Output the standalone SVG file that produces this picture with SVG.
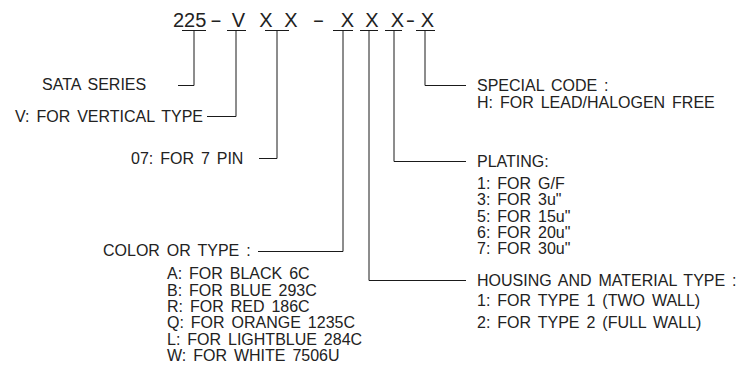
<svg xmlns="http://www.w3.org/2000/svg" width="755" height="386" viewBox="0 0 755 386">
<style>
text{font-family:"Liberation Sans",Arial,sans-serif;fill:#222222}
.t{font-size:20px}
.l{font-size:16px;word-spacing:2.5px}
.c{fill:none;stroke:#1a1a1a;stroke-width:1}
</style>
<rect width="755" height="386" fill="#ffffff"/>
<g id="part-number">
<text class="t" x="173" y="27">225</text>
<text class="t" x="0" y="0" text-anchor="middle" transform="translate(216,27) scale(1.8,1)">-</text>
<text class="t" x="238.5" y="27" text-anchor="middle">V</text>
<text class="t" x="266" y="27" text-anchor="middle">X</text>
<text class="t" x="291" y="27" text-anchor="middle">X</text>
<text class="t" x="0" y="0" text-anchor="middle" transform="translate(318.5,27) scale(1.8,1)">-</text>
<text class="t" x="347.5" y="27" text-anchor="middle">X</text>
<text class="t" x="372" y="27" text-anchor="middle">X</text>
<text class="t" x="397.5" y="27" text-anchor="middle">X</text>
<text class="t" x="0" y="0" text-anchor="middle" transform="translate(410.5,27) scale(1.4,1)">-</text>
<text class="t" x="427.5" y="27" text-anchor="middle">X</text>
</g>
<g id="connectors">
<path class="c" d="M182,30.5H206M194,30.5V85.5H178"/>
<path class="c" d="M227,30.5H246M236,30.5V116.5H207"/>
<path class="c" d="M265,30.5H289M277,30.5V158.5H259"/>
<path class="c" d="M333,30.5H353M343,30.5V251.5H258"/>
<path class="c" d="M360,30.5H378M369,30.5V280.5H466"/>
<path class="c" d="M385,30.5H402M394,30.5V161.5H466"/>
<path class="c" d="M416,30.5H435M425,30.5V85.5H466"/>
</g>
<g id="series">
<text class="l" x="42" y="90">SATA SERIES</text>
</g>
<g id="type">
<text class="l" x="203" y="122" text-anchor="end">V: FOR VERTICAL TYPE</text>
</g>
<g id="pin">
<text class="l" x="131" y="164">07: FOR 7 PIN</text>
</g>
<g id="color">
<text class="l" x="103" y="256">COLOR OR TYPE :</text>
<text class="l" x="167" y="279">A: FOR BLACK 6C</text>
<text class="l" x="167" y="295.5">B: FOR BLUE 293C</text>
<text class="l" x="167" y="312">R: FOR RED 186C</text>
<text class="l" x="167" y="328">Q: FOR ORANGE 1235C</text>
<text class="l" x="167" y="344.5">L: FOR LIGHTBLUE 284C</text>
<text class="l" x="167" y="361">W: FOR WHITE 7506U</text>
</g>
<g id="special">
<text class="l" x="477" y="91">SPECIAL CODE :</text>
<text class="l" x="477" y="108">H: FOR LEAD/HALOGEN FREE</text>
</g>
<g id="plating">
<text class="l" x="477" y="167">PLATING:</text>
<text class="l" x="477" y="189">1: FOR G/F</text>
<text class="l" x="477" y="205">3: FOR 3u"</text>
<text class="l" x="477" y="221.5">5: FOR 15u"</text>
<text class="l" x="477" y="237.5">6: FOR 20u"</text>
<text class="l" x="477" y="253.5">7: FOR 30u"</text>
</g>
<g id="housing">
<text class="l" x="477" y="286">HOUSING AND MATERIAL TYPE :</text>
<text class="l" x="477" y="306">1: FOR TYPE 1 (TWO WALL)</text>
<text class="l" x="477" y="328">2: FOR TYPE 2 (FULL WALL)</text>
</g>
</svg>
